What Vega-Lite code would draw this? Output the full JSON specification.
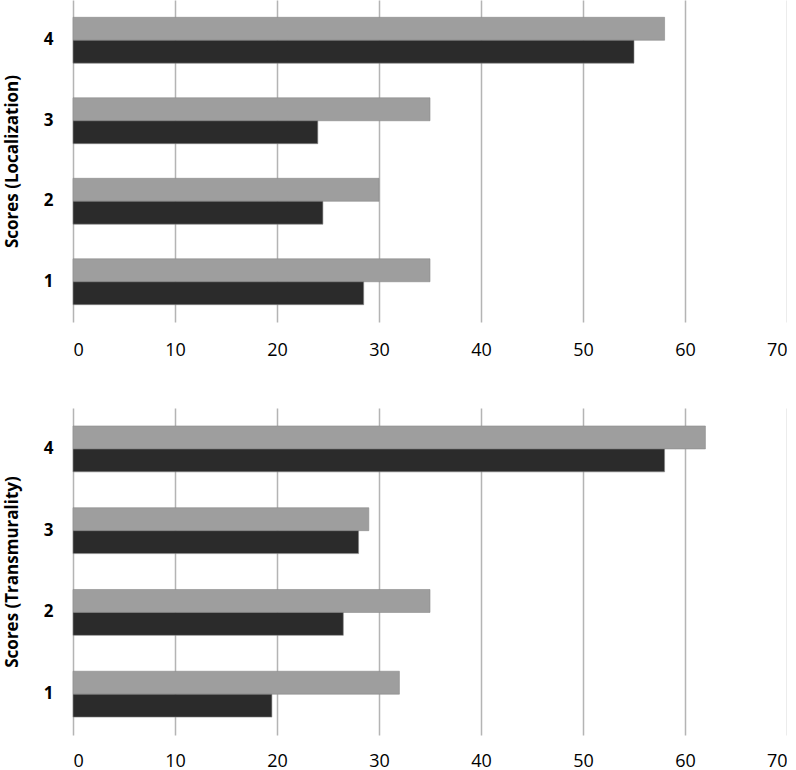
{
  "$schema": "https://vega.github.io/schema/vega-lite/v6.json",
  "padding": {"left": 3, "top": 0, "right": 0, "bottom": 0},
  "spacing": 49,
  "config": {
    "view": {"stroke": null},
    "font": "Open Sans",
    "axisX": {
      "grid": true, "gridColor": "#b4b4b4", "gridWidth": 1.5,
      "domain": false, "ticks": false, "tickSize": 0,
      "labelFontSize": 18, "labelColor": "#000", "labelPadding": 19,
      "labelOverlap": false, "labelBound": false, "title": null
    },
    "axisY": {
      "grid": false, "domain": false, "ticks": false, "tickSize": 0,
      "labelFontSize": 17, "labelFontWeight": "bold", "labelColor": "#000", "labelPadding": 20,
      "titleFontSize": 17, "titleFontWeight": "bold", "titleColor": "#000", "titlePadding": 22
    }
  },
  "datasets": {
    "loc": [
      {"score": "4", "series": "A", "value": 58},
      {"score": "4", "series": "B", "value": 55},
      {"score": "3", "series": "A", "value": 35},
      {"score": "3", "series": "B", "value": 24},
      {"score": "2", "series": "A", "value": 30},
      {"score": "2", "series": "B", "value": 24.5},
      {"score": "1", "series": "A", "value": 35},
      {"score": "1", "series": "B", "value": 28.5}
    ],
    "trans": [
      {"score": "4", "series": "A", "value": 62},
      {"score": "4", "series": "B", "value": 58},
      {"score": "3", "series": "A", "value": 29},
      {"score": "3", "series": "B", "value": 28},
      {"score": "2", "series": "A", "value": 35},
      {"score": "2", "series": "B", "value": 26.5},
      {"score": "1", "series": "A", "value": 32},
      {"score": "1", "series": "B", "value": 19.5}
    ]
  },
  "vconcat": [
    {
      "width": 714, "height": 322,
      "data": {"name": "loc"},
      "mark": {"type": "bar", "stroke": "#8a8a8a", "strokeWidth": 0.6},
      "encoding": {
        "y": {"field": "score", "type": "nominal", "sort": "descending",
              "scale": {"paddingInner": 0.43, "paddingOuter": 0.215},
              "axis": {"title": "Scores (Localization)", "labelAngle": 0}},
        "yOffset": {"field": "series", "type": "nominal", "scale": {"domain": ["A", "B"]}},
        "x": {"field": "value", "type": "quantitative", "scale": {"domain": [0, 70], "nice": false},
              "axis": {"values": [0, 10, 20, 30, 40, 50, 60, 70]}},
        "color": {"field": "series", "type": "nominal",
                  "scale": {"domain": ["A", "B"], "range": ["#9e9e9e", "#2b2b2b"]}, "legend": null}
      }
    },
    {
      "width": 714, "height": 327,
      "data": {"name": "trans"},
      "mark": {"type": "bar", "stroke": "#8a8a8a", "strokeWidth": 0.6},
      "encoding": {
        "y": {"field": "score", "type": "nominal", "sort": "descending",
              "scale": {"paddingInner": 0.44, "paddingOuter": 0.22},
              "axis": {"title": "Scores (Transmurality)", "labelAngle": 0}},
        "yOffset": {"field": "series", "type": "nominal", "scale": {"domain": ["A", "B"]}},
        "x": {"field": "value", "type": "quantitative", "scale": {"domain": [0, 70], "nice": false},
              "axis": {"values": [0, 10, 20, 30, 40, 50, 60, 70], "labelPadding": 17}},
        "color": {"field": "series", "type": "nominal",
                  "scale": {"domain": ["A", "B"], "range": ["#9e9e9e", "#2b2b2b"]}, "legend": null}
      }
    }
  ]
}
